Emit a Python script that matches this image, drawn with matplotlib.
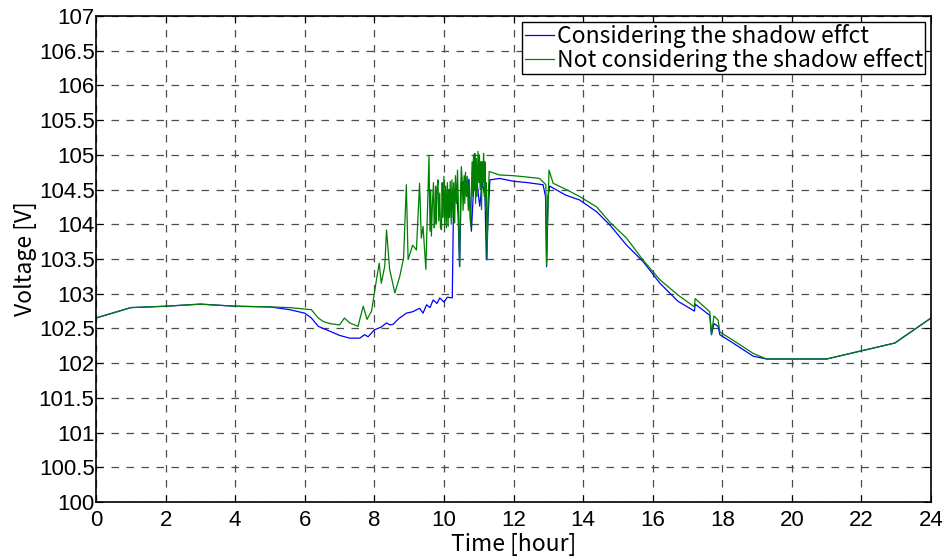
import matplotlib
matplotlib.use("Agg")
import matplotlib.pyplot as plt

plt.rcParams["font.family"] = ["Noto Sans CJK JP", "DejaVu Sans"]

# Considering the shadow effect (blue)
hours_shadow = [0.0, 1.0, 2.0, 3.0, 4.0, 5.0, 5.57, 6.0, 6.19, 6.39, 6.72, 7.0, 7.29,
                7.58, 7.72, 7.82, 8.0, 8.2, 8.35, 8.45, 8.54, 8.7, 8.92, 9.1, 9.3,
                9.4, 9.5, 9.6, 9.69, 9.8, 9.88, 10.0, 10.1, 10.24, 10.27, 10.31,
                10.36, 10.41, 10.45, 10.5, 10.55, 10.65, 10.72, 10.79, 10.85, 10.95,
                11.03, 11.1, 11.18, 11.22, 11.27, 11.32, 11.6, 12.0, 12.4, 12.85,
                12.92, 12.95, 12.99, 13.04, 13.5, 13.9, 14.39, 14.77, 15.25, 15.73,
                16.21, 16.73, 17.2, 17.22, 17.64, 17.69, 17.76, 17.88, 17.93, 18.31,
                18.89, 19.27, 21.0, 22.96, 24.0]
volt_shadow = [102.65, 102.80, 102.82, 102.85, 102.82, 102.81, 102.77, 102.72, 102.65,
               102.53, 102.46, 102.40, 102.36, 102.36, 102.41, 102.38, 102.48, 102.52,
               102.58, 102.55, 102.56, 102.64, 102.72, 102.74, 102.79, 102.72, 102.84,
               102.80, 102.91, 102.86, 102.94, 102.88, 102.95, 102.94, 104.07, 104.47,
               104.55, 104.10, 103.39, 104.60, 104.62, 104.40, 104.65, 103.90, 104.50,
               104.60, 104.26, 104.60, 104.40, 103.49, 104.10, 104.64, 104.66, 104.62,
               104.60, 104.57, 104.40, 103.39, 104.40, 104.55, 104.42, 104.35, 104.18,
               103.99, 103.70, 103.46, 103.15, 102.89, 102.75, 102.85, 102.69, 102.41,
               102.57, 102.53, 102.41, 102.29, 102.10, 102.06, 102.06, 102.29, 102.65]

# Not considering the shadow effect (green)
hours_clear = [0.0, 1.0, 2.0, 3.0, 4.0, 5.0, 5.57, 6.0, 6.19, 6.39, 6.53, 6.72, 7.0,
               7.14, 7.29, 7.53, 7.68, 7.79, 7.92, 8.06, 8.14, 8.2, 8.3, 8.35, 8.44,
               8.59, 8.73, 8.84, 8.92, 8.97, 9.1, 9.21, 9.3, 9.35, 9.4, 9.48,
               9.57, 9.60, 9.62, 9.64, 9.67, 9.70, 9.72, 9.74, 9.76, 9.78, 9.80, 9.83,
               9.85, 9.88, 9.90, 9.93, 9.95, 9.97, 10.00, 10.02, 10.05, 10.07, 10.10,
               10.12, 10.14, 10.16, 10.18, 10.21, 10.23, 10.26, 10.28, 10.31, 10.33,
               10.36, 10.39, 10.41, 10.43, 10.45, 10.48, 10.50, 10.53, 10.55, 10.58,
               10.60, 10.62, 10.65, 10.67, 10.70, 10.72, 10.75, 10.77, 10.79, 10.81,
               10.83, 10.85, 10.87, 10.89, 10.91, 10.93, 10.95, 10.98, 11.00, 11.02,
               11.04, 11.06, 11.08, 11.10, 11.12, 11.14, 11.16, 11.18, 11.20, 11.22,
               11.24, 11.27, 11.30,
               11.6, 12.0, 12.4, 12.75, 12.93, 12.95, 13.02, 13.14,
               13.52, 13.9, 14.39, 14.77, 15.25, 15.73, 16.21, 16.73, 17.2, 17.22,
               17.64, 17.69, 17.76, 17.88, 17.93, 18.31, 18.89, 19.27, 21.0, 22.96, 24.0]
volt_clear = [102.65, 102.80, 102.82, 102.85, 102.82, 102.81, 102.80, 102.78, 102.77,
              102.65, 102.60, 102.57, 102.55, 102.65, 102.58, 102.53, 102.82, 102.63,
              102.75, 103.20, 103.44, 103.15, 103.40, 103.92, 103.35, 103.01, 103.25,
              103.51, 104.57, 103.49, 103.70, 103.63, 104.59, 103.80, 103.97, 103.35,
              104.98, 103.90, 104.50, 103.83, 104.30, 104.60, 103.95, 104.02, 104.55,
              104.00, 104.50, 104.64, 104.05, 104.45, 103.95, 103.92, 104.60, 104.10,
              104.69, 104.00, 104.55, 103.95, 104.60, 103.97, 104.50, 104.10, 104.62,
              104.00, 104.64, 104.10, 104.60, 104.02, 104.70, 104.30, 104.78, 104.40,
              103.80, 103.39, 104.50, 104.83, 104.60, 104.20, 104.70, 104.30, 104.75,
              104.40, 104.69, 104.20, 104.60, 104.10, 103.97, 104.50, 104.90, 104.40,
              105.00, 104.50, 105.02, 104.30, 104.95, 104.40, 105.05, 104.60, 105.00,
              104.50, 104.90, 104.21, 104.90, 104.60, 105.02, 104.40, 104.90, 104.20,
              104.60, 103.49, 104.30, 104.76,
              104.71, 104.70, 104.68, 104.66, 104.57, 103.42, 104.78, 104.59,
              104.50, 104.40, 104.25, 104.03, 103.80, 103.48, 103.20, 102.98, 102.81,
              102.93, 102.74, 102.41, 102.68, 102.62, 102.45, 102.33, 102.14, 102.06,
              102.06, 102.29, 102.65]

x_ticks = list(range(0, 25, 2))
y_ticks = [100, 100.5, 101, 101.5, 102, 102.5, 103, 103.5, 104, 104.5, 105, 105.5,
           106, 106.5, 107]

fig = plt.figure(figsize=(9.43, 5.57), dpi=100)
ax = fig.add_axes([0.1018, 0.0987, 0.8855, 0.8726])

ax.plot(hours_shadow, volt_shadow, color="#0000ff", linewidth=0.9,
        label="Considering the shadow effct")
ax.plot(hours_clear, volt_clear, color="#008000", linewidth=0.9,
        label="Not considering the shadow effect")

ax.set_xlim(0, 24)
ax.set_ylim(100, 107)
ax.set_xticks(x_ticks)
ax.set_yticks(y_ticks)
ax.set_yticklabels([f"{v:g}" for v in y_ticks])
ax.tick_params(direction="in", top=True, right=True, length=5, labelsize=16)
ax.tick_params(axis="x", pad=6)
ax.tick_params(axis="y", pad=1)
for lab in ax.get_xticklabels() + ax.get_yticklabels():
    lab.set_fontfamily(["Liberation Sans", "DejaVu Sans"])
ax.grid(True, color="0.3", linestyle=(0, (6, 6)), linewidth=0.9)
for s in ax.spines.values():
    s.set_linewidth(1.2)

ax.set_xlabel("Time [hour]", fontsize=16.5, labelpad=1)
ax.set_ylabel("Voltage [V]", fontsize=16.5, labelpad=1)

leg = ax.legend(loc="upper right", fontsize=16.5, handlelength=1.3, handletextpad=0.1,
                borderpad=0.1, labelspacing=0.0, borderaxespad=0.25, fancybox=False,
                framealpha=1)
leg.get_frame().set_edgecolor("black")
leg.get_frame().set_linewidth(1.0)

fig.savefig("out.png", dpi=100)
